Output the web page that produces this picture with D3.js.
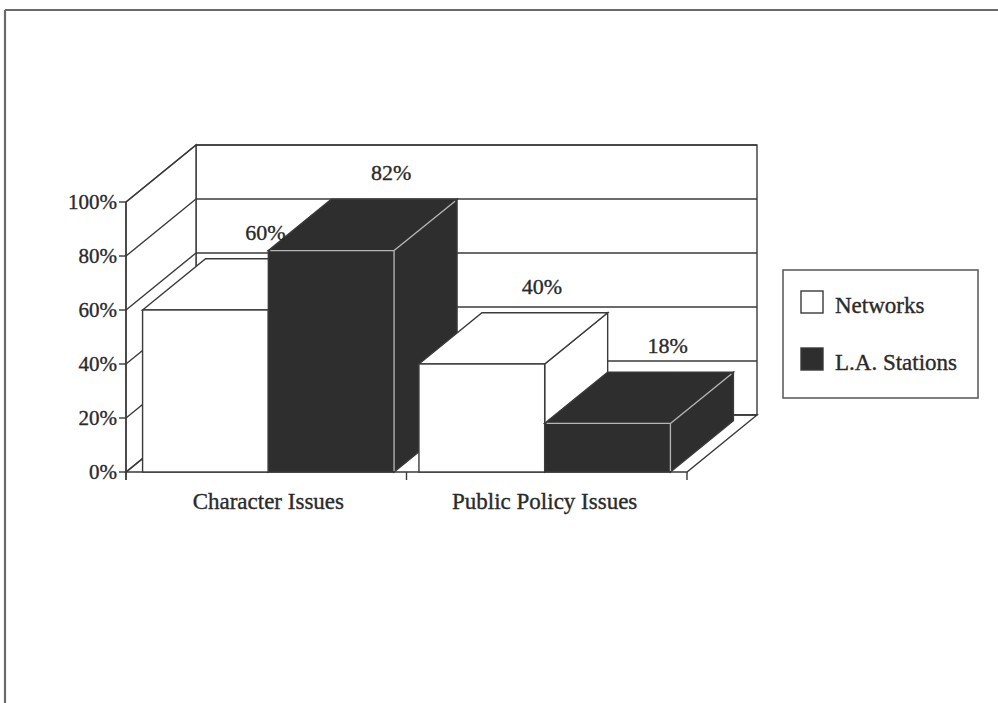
<!DOCTYPE html>
<html>
<head>
<meta charset="utf-8">
<script src="https://cdn.jsdelivr.net/npm/d3@7"></script>
<style>
  html, body { margin: 0; padding: 0; background: #ffffff; }
  svg { display: block; }
  text { font-family: "Liberation Serif", "Times New Roman", serif; fill: #2a2a2a; stroke: #2a2a2a; stroke-width: 0.35px; }
</style>
</head>
<body>
<svg id="chart" width="998" height="703"></svg>
<script>
// ---- data ----
const categories = ["Character Issues", "Public Policy Issues"];
const seriesNames = ["Networks", "L.A. Stations"];
const networks = [60, 40];
const laStations = [82, 18];
const yTickValues = [0, 20, 40, 60, 80, 100];
const yTickLabels = ["0%", "20%", "40%", "60%", "80%", "100%"];

// ---- layout ----
const W = 998, H = 703;
const X0 = 126, X1 = 687, YB = 472, YT = 202;
const DX = 70, DY = -57;           // depth of the walls
const BAR_DEPTH = 0.9;             // fraction of wall depth used by bars
const bdx = DX * BAR_DEPTH, bdy = DY * BAR_DEPTH;
const fills = ["#ffffff", "#2e2e2e"];
const lineColor = "#3a3a3a";

const svg = d3.select("#chart");

const y = d3.scaleLinear().domain([0, 100]).range([YB, YT]);
const x0 = d3.scaleBand().domain(categories).range([X0, X1]).paddingInner(0.09).paddingOuter(0.06);
const x1 = d3.scaleBand().domain(seriesNames).range([0, x0.bandwidth()]);

// frame
svg.append("line").attr("x1", 5).attr("y1", 10).attr("x2", W).attr("y2", 10)
  .attr("stroke", "#6a6a6a").attr("stroke-width", 2.2);
svg.append("line").attr("x1", 5).attr("y1", 10).attr("x2", 5).attr("y2", H)
  .attr("stroke", "#6a6a6a").attr("stroke-width", 2.2);

const g = svg.append("g").attr("fill", "none").attr("stroke", lineColor).attr("stroke-width", 1.4);

// back wall
g.append("rect").attr("x", X0 + DX).attr("y", y(100) + DY)
  .attr("width", X1 - X0).attr("height", YB - y(100)).attr("fill", "#fff");
// floor
g.append("polygon").attr("fill", "#fff")
  .attr("points", [[X0, YB], [X1, YB], [X1 + DX, YB + DY], [X0 + DX, YB + DY]].map(p => p.join(",")).join(" "));
// left wall
g.append("polygon").attr("fill", "#fff")
  .attr("points", [[X0, YB], [X0, y(100)], [X0 + DX, y(100) + DY], [X0 + DX, YB + DY]].map(p => p.join(",")).join(" "));

// gridlines on back wall + left wall diagonals
yTickValues.forEach(v => {
  g.append("line").attr("x1", X0 + DX).attr("x2", X1 + DX).attr("y1", y(v) + DY).attr("y2", y(v) + DY);
  g.append("line").attr("x1", X0).attr("x2", X0 + DX).attr("y1", y(v)).attr("y2", y(v) + DY);
});

// front y axis
g.append("line").attr("x1", X0).attr("x2", X0).attr("y1", y(100)).attr("y2", YB + 8);
yTickValues.forEach((v, i) => {
  g.append("line").attr("x1", X0 - 7).attr("x2", X0).attr("y1", y(v)).attr("y2", y(v));
  svg.append("text").attr("x", X0 - 9).attr("y", y(v) + 7)
    .attr("text-anchor", "end").attr("font-size", 21).text(yTickLabels[i]);
});
// x axis ticks: ends and boundary between categories
const xTickPositions = [X0, (x0(categories[0]) + x0.bandwidth() + x0(categories[1])) / 2, X1];
xTickPositions.forEach(px => {
  g.append("line").attr("x1", px).attr("x2", px).attr("y1", YB).attr("y2", YB + 8);
});

// bars
const bars = [];
categories.forEach((c, ci) => {
  [networks[ci], laStations[ci]].forEach((v, si) => {
    bars.push({ c, s: seriesNames[si], si, v });
  });
});

const barG = svg.append("g").attr("stroke", lineColor).attr("stroke-width", 1.4);
bars.forEach(b => {
  const L = x0(b.c) + x1(b.s);
  const R = L + x1.bandwidth();
  const T = y(b.v);
  const fill = fills[b.si];
  // side face
  barG.append("polygon").attr("fill", fill)
    .attr("points", [[R, YB], [R, T], [R + bdx, T + bdy], [R + bdx, YB + bdy]].map(p => p.join(",")).join(" "));
  // top face
  barG.append("polygon").attr("fill", fill)
    .attr("points", [[L, T], [R, T], [R + bdx, T + bdy], [L + bdx, T + bdy]].map(p => p.join(",")).join(" "));
  // front face
  barG.append("rect").attr("fill", fill).attr("x", L).attr("y", T).attr("width", R - L).attr("height", YB - T);
  if (b.si === 1) {
    const hl = barG.append("g").attr("stroke", "#b5b5b5").attr("stroke-width", 1.3);
    hl.append("line").attr("x1", L + 2).attr("x2", R).attr("y1", T).attr("y2", T);
    hl.append("line").attr("x1", R).attr("x2", R).attr("y1", T).attr("y2", YB - 1);
    hl.append("line").attr("x1", R).attr("x2", R + bdx - 2).attr("y1", T).attr("y2", T + bdy + 2);
  }
});

// value labels
bars.forEach(b => {
  const L = x0(b.c) + x1(b.s);
  const cx = L + x1.bandwidth() / 2 + bdx - 3;
  const ty = y(b.v) + bdy - 19;
  svg.append("text").attr("x", cx).attr("y", ty).attr("text-anchor", "middle")
    .attr("font-size", 22).text(b.v + "%");
});

// category labels
categories.forEach(c => {
  svg.append("text").attr("x", x0(c) + x0.bandwidth() / 2).attr("y", 509)
    .attr("text-anchor", "middle").attr("font-size", 23).text(c);
});

// legend
const lg = svg.append("g");
lg.append("rect").attr("x", 783).attr("y", 270).attr("width", 195).attr("height", 128)
  .attr("fill", "#fff").attr("stroke", "#555").attr("stroke-width", 1.5);
seriesNames.forEach((s, i) => {
  const yy = 291 + i * 57;
  lg.append("rect").attr("x", 801).attr("y", yy).attr("width", 22).attr("height", 22)
    .attr("fill", fills[i]).attr("stroke", "#3a3a3a").attr("stroke-width", 1.4);
  lg.append("text").attr("x", 835).attr("y", yy + 22).attr("font-size", 23).text(s);
});
</script>
</body>
</html>
